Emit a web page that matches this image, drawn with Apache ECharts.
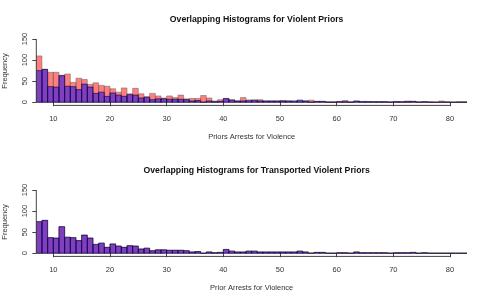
<!DOCTYPE html>
<html><head><meta charset="utf-8">
<script src="https://cdn.jsdelivr.net/npm/echarts@6/dist/echarts.min.js"></script>
<style>html,body{margin:0;padding:0;background:#fff}#c{width:485px;height:302px}</style>
</head><body><div id="c"></div>
<script>
// Bin starts (bins of width 1)
var binStarts = [7,8,9,10,11,12,13,14,15,16,17,18,19,20,21,22,23,24,25,26,27,28,29,30,31,32,33,34,35,36,37,38,39,40,41,42,43,44,45,46,47,48,49,50,51,52,53,54,55,56,57,58,59,60,61,62,63,64,65,66,67,68,69,70,71,72,73,74,75,76,77,78,79,80,81,82];
// All violent priors (red)
var violentPriors = [110,78,71,71,64,67,47,57,54,42,46,40,38,32,24,34,20,33,20,13,21,15,10,15,11,17,8,9,9,16,10,3,6,8,6,3,11,3,5,6,3,3,3,4,3,2,3,3,5,2,2,1,1,2,4,1,2,2,2,1,1,1,1,2,1,3,2,1,1,1,0,3,1,0,1,1];
// Transported violent priors (blue)
var transportedPriors = [75,78,37,36,63,38,37,30,43,36,21,24,14,22,17,14,18,17,10,12,6,8,8,7,7,7,6,3,4,0,3,1,2,9,5,3,3,5,5,3,3,3,3,3,3,3,5,3,0,2,2,0,0,1,1,0,3,1,1,1,1,1,0,1,1,1,2,0,1,0,0,0,0,0,0,0];
var xTicks = [10,20,30,40,50,60,70,80];
var yTicks = [0,50,100,150];
var titles = ['Overlapping Histograms for Violent Priors','Overlapping Histograms for Transported Violent Priors'];
var xNames = ['Priors Arrests for Violence','Prior Arrests for Violence'];

var FONT = 'Liberation Sans, Arial, sans-serif';
var AX = '#444';
var XMIN = 7, XMAX = 83, YMIN = -7.5, YMAX = 156;

function pairs(vals){ return binStarts.map(function(b,i){ return [b, vals[i]]; }); }
function histSeries(idx, vals, fill, stroke){
  return {
    type:'custom', xAxisIndex: idx, yAxisIndex: idx, clip: true,
    data: pairs(vals),
    renderItem: function(params, api){
      var x0 = api.value(0), h = api.value(1);
      var p0 = api.coord([x0, h]);
      var p1 = api.coord([x0 + 1, 0]);
      return {type:'rect', shape:{x:p0[0], y:p0[1], width:p1[0]-p0[0], height:p1[1]-p0[1]},
        style:{fill:fill, stroke:stroke, lineWidth:0.8}};
    },
    silent:true, animation:false
  };
}
function axisLineSeries(idx){
  return [
    {type:'line', xAxisIndex:idx, yAxisIndex:idx, data:[[xTicks[0],YMIN],[xTicks[xTicks.length-1],YMIN]],
     symbol:'none', lineStyle:{color:AX, width:1}, silent:true, animation:false, clip:false},
    {type:'line', xAxisIndex:idx, yAxisIndex:idx, data:[[XMIN,yTicks[0]],[XMIN,yTicks[yTicks.length-1]]],
     symbol:'none', lineStyle:{color:AX, width:1}, silent:true, animation:false, clip:false}
  ];
}
var grids = [
  {left:36.3, width:430.7, top:36.5, height:68.9, outerBoundsMode:'none', containLabel:false},
  {left:36.3, width:430.7, top:187.5, height:68.9, outerBoundsMode:'none', containLabel:false}
];
function xAx(i){
  return {gridIndex:i, type:'value', min:XMIN, max:XMAX,
    name:xNames[i], nameLocation:'middle', nameGap:28,
    nameTextStyle:{fontFamily:FONT, fontSize:7.5, color:'#333'},
    axisLine:{show:false}, splitLine:{show:false},
    axisTick:{show:true, customValues:xTicks, length:4, lineStyle:{color:AX}},
    axisLabel:{customValues:xTicks, fontFamily:FONT, fontSize:7.5, color:'#333', margin:9.5}};
}
function yAx(i){
  return {gridIndex:i, type:'value', min:YMIN, max:YMAX,
    name:'Frequency', nameLocation:'middle', nameGap:27, nameRotate:90,
    nameTextStyle:{fontFamily:FONT, fontSize:7.5, color:'#333'},
    axisLine:{show:false}, splitLine:{show:false},
    axisTick:{show:true, customValues:yTicks, length:4, lineStyle:{color:AX}},
    axisLabel:{customValues:yTicks, rotate:90, fontFamily:FONT, fontSize:7.5, color:'#333', margin:7}};
}
var chart = echarts.init(document.getElementById('c'), null, {renderer:'canvas'});
chart.setOption({
  animation:false,
  title: [
    {text:titles[0], left:251.6, top:10, textAlign:'center', textStyle:{fontFamily:FONT, fontSize:8.7, fontWeight:'bold', color:'#111'}},
    {text:titles[1], left:251.6, top:161.5, textAlign:'center', textStyle:{fontFamily:FONT, fontSize:8.7, fontWeight:'bold', color:'#111'}}
  ],
  grid: grids,
  xAxis: [xAx(0), xAx(1)],
  yAxis: [yAx(0), yAx(1)],
  series: [
    histSeries(0, violentPriors, 'rgba(255,0,0,0.5)', 'rgba(90,90,90,0.6)'),
    histSeries(0, transportedPriors, 'rgba(0,0,255,0.5)', 'rgba(20,0,50,0.8)'),
    histSeries(1, transportedPriors, 'rgba(255,0,0,0.5)', 'rgba(90,90,90,0.6)'),
    histSeries(1, transportedPriors, 'rgba(0,0,255,0.5)', 'rgba(20,0,50,0.8)')
  ].concat(axisLineSeries(0), axisLineSeries(1))
});
</script></body></html>
